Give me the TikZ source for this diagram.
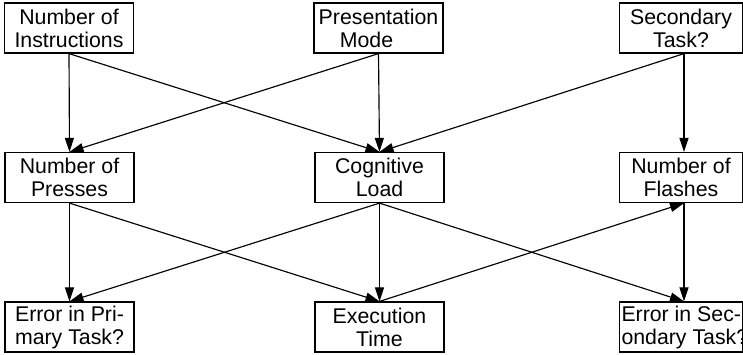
\documentclass[tikz,border=0pt]{standalone}
\usepackage{fontspec}
\setmainfont{Liberation Sans}
\usetikzlibrary{arrows.meta}
\begin{document}
\begin{tikzpicture}[x=1pt,y=-1pt,
  box/.style={draw,line width=1.2pt,minimum width=129pt,minimum height=50pt,
    inner sep=0pt,align=center,font=\fontsize{21.3}{23}\selectfont},
  rbox/.style={box,minimum width=123pt},
  link/.style={line width=1.15pt,-{Triangle[length=14pt,width=9pt]}}]
\useasboundingbox (0,0) rectangle (743,354);
% top row: factors
\node[box] (NI) at (69,28) {Number of\\Instructions};
\node[box] (PM) at (378.5,28) {Presentation\\\hspace*{-24pt}Mode};
\node[rbox] (ST) at (681,28) {Secondary\\Task?};
% middle row
\node[box] (NP) at (69.5,177.5) {Number of\\Presses};
\node[box] (CL) at (379.5,177.5) {Cognitive\\Load};
\node[rbox] (NF) at (681,177.5) {Number of\\Flashes};
% bottom row
\node[box] (EP) at (69.5,327) {Error in Pri-\\mary Task?};
\node[box] (ET) at (379.5,327) {Execution\\Time};
\node[rbox,align=left] (ES) at (681,327)
  {\makebox[119pt][l]{Error in Sec-}\\\makebox[119pt][l]{ondary Task?}};
% top to middle
\draw[link] (NI.south) -- (NP.north);
\draw[link] (NI.south) -- (CL.north);
\draw[link] (PM.south) -- (NP.north);
\draw[link] (PM.south) -- (CL.north);
\draw[link] ([xshift=3pt]ST.south) -- (CL.north);
\draw[link] ([xshift=3pt]ST.south) -- ([xshift=3pt]NF.north);
% middle to bottom
\draw[link] (NP.south) -- (EP.north);
\draw[link] (NP.south) -- (ET.north);
\draw[link] (CL.south) -- (EP.north);
\draw[link] (CL.south) -- (ET.north);
\draw[link] (CL.south) -- ([xshift=3pt]ES.north);
\draw[link] (ET.north) -- ([xshift=3pt]NF.south);
\draw[link] ([xshift=3pt]NF.south) -- ([xshift=3pt]ES.north);
\end{tikzpicture}
\end{document}
